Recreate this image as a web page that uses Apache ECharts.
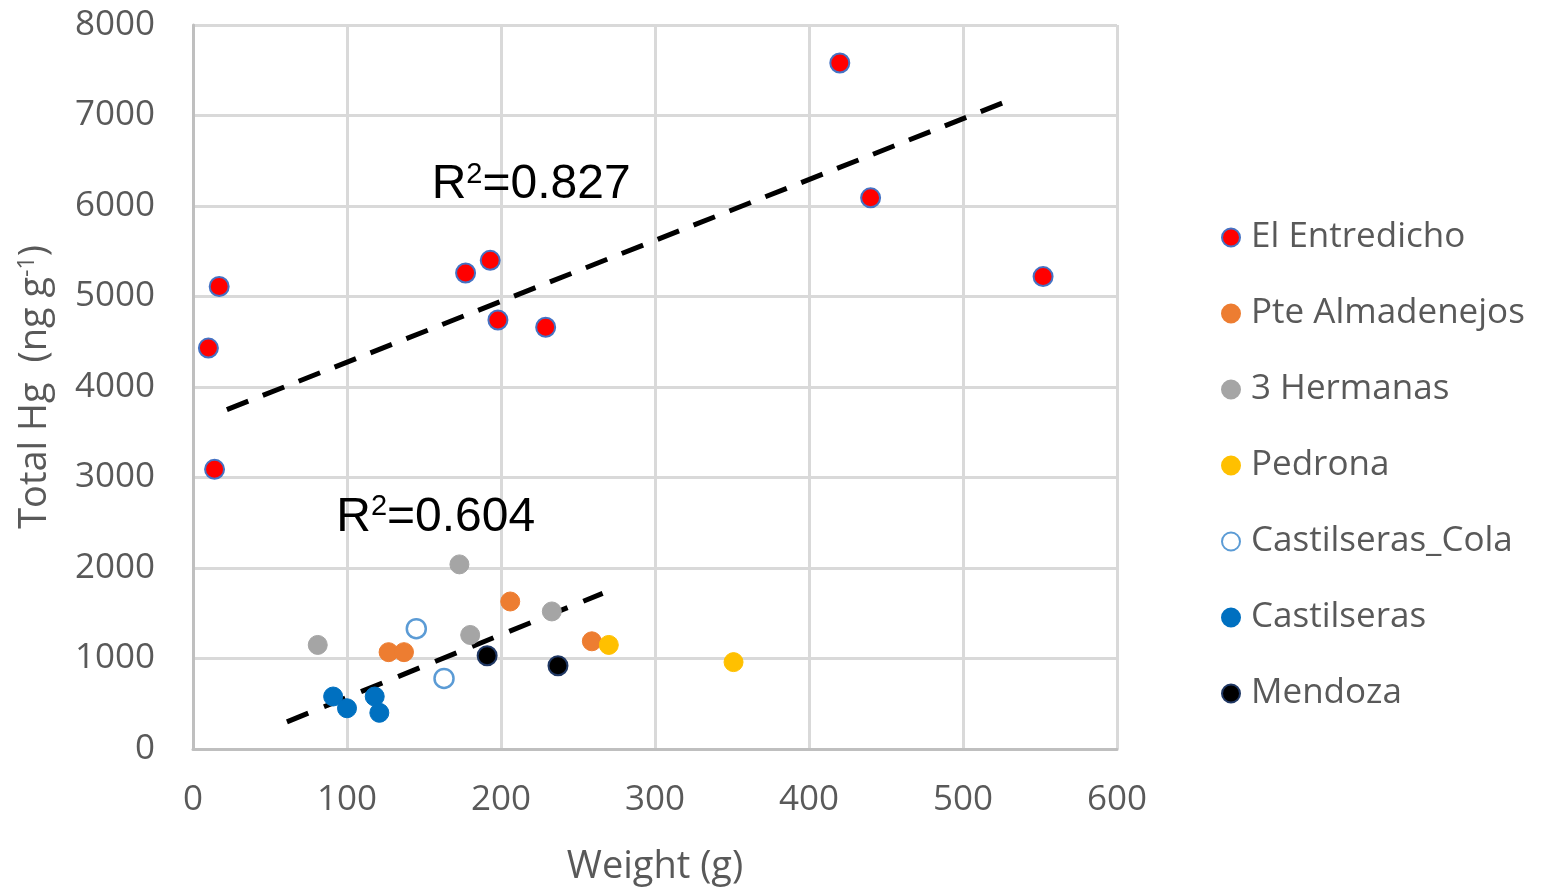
<!DOCTYPE html>
<html><head><meta charset="utf-8">
<script src="https://cdn.jsdelivr.net/npm/echarts@6/dist/echarts.min.js"></script>
<style>html,body{margin:0;padding:0;background:#fff}#c{width:1548px;height:891px}</style>
</head><body><div id="c"></div>
<script>
const seriesNames = ['El Entredicho','Pte Almadenejos','3 Hermanas','Pedrona','Castilseras_Cola','Castilseras','Mendoza'];
const elEntredicho = [[10,4430],[17,5110],[14,3090],[177,5260],[193,5400],[198,4740],[229,4660],[420,7580],[440,6090],[552,5220]];
const pteAlmadenejos = [[127,1070],[137,1070],[206,1630],[259,1190]];
const tresHermanas = [[81,1150],[173,2040],[180,1260],[233,1520]];
const pedrona = [[270,1150],[351,960]];
const castilserasCola = [[145,1330],[163,780]];
const castilseras = [[91,580],[100,450],[118,580],[121,400]];
const mendoza = [[191,1030],[237,920]];
const trendHigh = [[22,3750],[526,7140]];
const trendLow = [[61,300],[266,1720]];
const r2High = {text:'0.827', coord:[155,6230]};
const r2Low = {text:'0.604', coord:[93,2560]};
const xTicks = [0,100,200,300,400,500,600];
const yTicks = [0,1000,2000,3000,4000,5000,6000,7000,8000];

const FONT = 'Open Sans';
const GREY = '#595959';
const styles = [
  {color:'#FF0000', borderColor:'#4472C4', borderWidth:2, symbol:'circle'},
  {color:'#ED7D31', borderColor:'#ED7D31', borderWidth:1, symbol:'circle'},
  {color:'#A5A5A5', borderColor:'#A5A5A5', borderWidth:1, symbol:'circle'},
  {color:'#FFC000', borderColor:'#FFC000', borderWidth:1, symbol:'circle'},
  {color:'#FFFFFF', borderColor:'#5B9BD5', borderWidth:2.5, symbol:'circle'},
  {color:'#0070C0', borderColor:'#0070C0', borderWidth:1, symbol:'circle'},
  {color:'#000000', borderColor:'#203864', borderWidth:2, symbol:'circle'}
];
const datasets = [elEntredicho, pteAlmadenejos, tresHermanas, pedrona, castilserasCola, castilseras, mendoza];

function trend(data, r2, dash){
  return {
    type:'line', data:data, symbol:'none', silent:true, z:3,
    lineStyle:{color:'#000', width:5, type:dash},
    markPoint:{
      symbol:'circle', symbolSize:0, silent:true,
      data:[{coord:r2.coord, value:r2.text}],
      label:{show:true, position:'right', distance:0,
        formatter:'{a|R}{s|2}{a|=' + r2.text + '}',
        rich:{a:{fontFamily:'Liberation Sans, Arial', fontSize:48, color:'#000'},
              s:{fontFamily:'Liberation Sans, Arial', fontSize:29, color:'#000', verticalAlign:'top', padding:[0,0,20,0]}}}
    }
  };
}

const series = datasets.map((d,i)=>({
  name: seriesNames[i], type:'scatter', data:d, symbol:styles[i].symbol, symbolSize:19, z:4,
  itemStyle:{color:styles[i].color, borderColor:styles[i].borderColor, borderWidth:styles[i].borderWidth, opacity:1}
}));
series.push(trend(trendHigh, r2High, [23,15.6]));
series.push(trend(trendLow, r2Low, [23,17]));

const chart = echarts.init(document.getElementById('c'));
chart.setOption({
  animation:false,
  grid:{left:193, right:431, top:25, bottom:142, containLabel:false, outerBoundsMode:'none'},
  legend:{
    data:seriesNames, orient:'vertical', left:1216, top:215,
    itemWidth:18, itemHeight:18, itemGap:41, icon:'circle',
    textStyle:{fontFamily:FONT, fontSize:35, color:GREY, padding:[0,0,0,6]}
  },
  xAxis:{
    type:'value', min:xTicks[0], max:xTicks[xTicks.length-1], interval:100,
    name:'Weight (g)', nameLocation:'middle', nameGap:99,
    nameTextStyle:{fontFamily:FONT, fontSize:38, color:GREY},
    axisLine:{show:true, lineStyle:{color:'#BFBFBF', width:3}},
    axisTick:{show:false},
    axisLabel:{fontFamily:FONT, fontSize:35, color:GREY, margin:34, formatter:v=>String(v)},
    splitLine:{show:true, lineStyle:{color:'#D9D9D9', width:3}}
  },
  yAxis:{
    type:'value', min:yTicks[0], max:yTicks[yTicks.length-1], interval:1000,
    name:'{t|Total Hg  (ng g}{s|-1}{t|)}', nameLocation:'middle', nameGap:138, nameRotate:90,
    nameTextStyle:{rich:{t:{fontFamily:FONT, fontSize:38, color:GREY}, s:{fontFamily:FONT, fontSize:23, color:GREY, verticalAlign:'top', padding:[0,0,16,0]}}},
    axisLine:{show:true, lineStyle:{color:'#BFBFBF', width:3}},
    axisTick:{show:false},
    axisLabel:{fontFamily:FONT, fontSize:35, color:GREY, margin:38, formatter:v=>String(v)},
    splitLine:{show:true, lineStyle:{color:'#D9D9D9', width:3}}
  },
  series:series
});
</script></body></html>
